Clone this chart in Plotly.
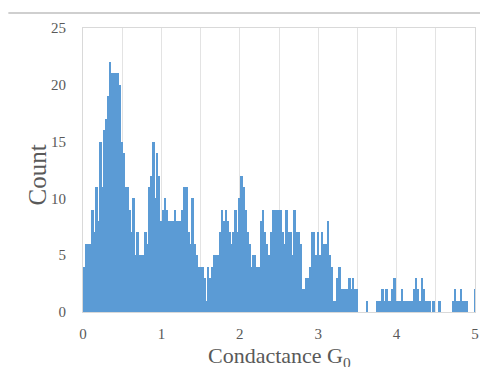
import plotly.graph_objects as go

bin_width = 0.025
counts = [
    3, 4, 6, 6, 6, 9, 7, 11, 8, 15,
    11, 16, 17, 19, 22, 21, 21, 21, 21, 20,
    15, 14, 11, 11, 9, 7, 10, 5, 7, 5,
    5, 5, 7, 6, 11, 12, 15, 10, 14, 12,
    8, 9, 10, 9, 8, 8, 8, 9, 8, 8,
    8, 9, 11, 11, 7, 6, 10, 6, 5, 4,
    4, 4, 3, 1, 4, 3, 4, 5, 5, 5,
    7, 9, 8, 9, 8, 7, 6, 7, 9, 7,
    10, 12, 11, 9, 7, 6, 4, 5, 5, 4,
    4, 8, 9, 7, 6, 5, 7, 9, 9, 9,
    9, 9, 7, 6, 9, 7, 7, 5, 9, 7,
    7, 6, 2, 2, 3, 3, 4, 7, 7, 5,
    7, 5, 7, 6, 6, 8, 5, 4, 1, 1,
    3, 4, 2, 2, 2, 2, 3, 2, 3, 2,
    2, 0, 0, 0, 0, 1, 0, 0, 0, 0,
    1, 1, 1, 2, 1, 2, 1, 1, 2, 3,
    1, 1, 1, 2, 1, 1, 1, 1, 1, 2,
    3, 2, 1, 3, 2, 1, 1, 1, 0, 1,
    0, 0, 1, 0, 0, 0, 0, 0, 0, 1,
    2, 1, 1, 2, 1, 1, 1, 0, 0, 0,
    2,
]
conductance = [round(i * bin_width, 3) for i in range(len(counts))]
x_ticks = [0, 1, 2, 3, 4, 5]
y_ticks = [0, 5, 10, 15, 20, 25]
x_title = "Condactance G<sub>0</sub>"
y_title = "Count"

font_family = "Liberation Serif, Times New Roman, serif"
gray = "#595959"

fig = go.Figure(
    go.Bar(
        x=conductance,
        y=counts,
        width=bin_width,
        marker=dict(color="#5B9BD5", line=dict(width=0)),
    )
)

# the page body has an 8px margin, so the figure is laid out 8px smaller
fig.update_layout(
    width=480,
    height=359,
    margin=dict(l=75, r=13, t=20, b=55),
    paper_bgcolor="white",
    plot_bgcolor="white",
    bargap=0,
    showlegend=False,
    font=dict(family=font_family, color=gray, size=15),
    xaxis=dict(
        range=[0, 5],
        tickvals=x_ticks,
        showgrid=True,
        gridcolor="#E3E3E3",
        gridwidth=1,
        minor=dict(dtick=0.5, showgrid=True, gridcolor="#E3E3E3"),
        showline=True,
        linecolor="#D9D9D9",
        mirror=True,
        ticks="",
        ticklabelstandoff=8,
        zeroline=False,
        automargin=False,
    ),
    yaxis=dict(
        range=[0, 25],
        tickvals=y_ticks,
        showgrid=False,
        showline=True,
        linecolor="#D9D9D9",
        mirror=True,
        ticks="",
        ticklabelstandoff=13,
        zeroline=False,
        automargin=False,
    ),
    annotations=[
        dict(
            text=x_title,
            xref="paper",
            yref="paper",
            x=0.5,
            y=-0.16,
            xanchor="center",
            yanchor="middle",
            showarrow=False,
            font=dict(size=22, color=gray, family=font_family),
        ),
        dict(
            text=y_title,
            xref="paper",
            yref="paper",
            x=-0.1165,
            y=0.482,
            xanchor="center",
            yanchor="middle",
            textangle=-90,
            showarrow=False,
            font=dict(size=25, color=gray, family=font_family),
        ),
    ],
    shapes=[
        dict(
            type="line",
            xref="paper",
            yref="paper",
            x0=-0.1904,
            x1=1.033,
            y0=1.0528,
            y1=1.0528,
            line=dict(color="#BFBFBF", width=1.5),
        )
    ],
)

fig.write_html("out.html")
